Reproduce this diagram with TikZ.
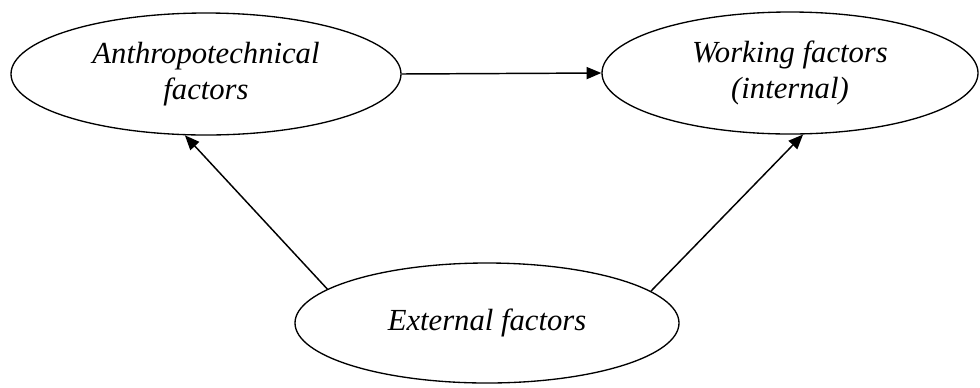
\documentclass[tikz,border=0pt]{standalone}
\usepackage{fontspec}
\setmainfont{Liberation Serif}
\usetikzlibrary{shapes.geometric,arrows.meta}
\begin{document}
\begin{tikzpicture}[x=0.75pt,y=-0.75pt,
  factor/.style={draw,ellipse,line width=1pt,inner sep=0pt,align=center,
    font=\fontsize{23}{27}\selectfont\itshape},
  link/.style={line width=1.1pt,-{Triangle[length=11pt,width=9pt]}}]
\useasboundingbox (0,0) rectangle (980,387);
\node[factor,minimum width=292.5pt,minimum height=91.5pt] (anthro) at (206,74) {Anthropotechnical\\factors};
\node[factor,minimum width=282pt,minimum height=91.5pt] (work) at (790,73) {Working factors\\(internal)};
\node[factor,minimum width=288pt,minimum height=90pt] (ext) at (487,323) {External factors};
\draw[link] (anthro.east) -- (work.west);
\draw[link] (ext.168) -- (anthro.-109);
\draw[link] (ext.11) -- (work.-78);
\end{tikzpicture}
\end{document}
